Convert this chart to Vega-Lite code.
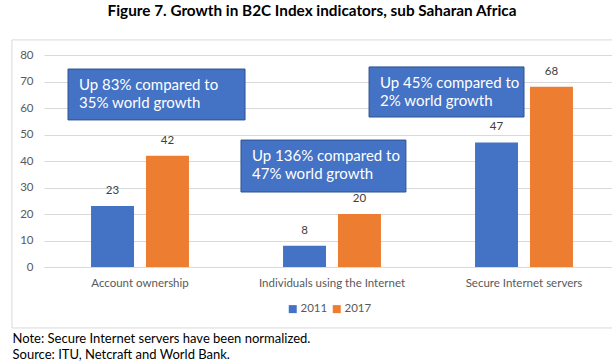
{
  "$schema": "https://vega.github.io/schema/vega-lite/v6.json",
  "width": 568,
  "height": 212,
  "autosize": {"type": "none"},
  "padding": {"left": 44, "top": 55, "right": 0, "bottom": 97},
  "background": "white",
  "config": {
    "font": "Lato",
    "view": {"stroke": null},
    "axis": {"labelFont": "Lato", "titleFont": "Lato"},
    "axisY": {
      "tickCount": 12,
      "labelOverlap": false,
      "ticks": false,
      "domain": false,
      "labelFontSize": 11.5,
      "labelColor": "#595959",
      "labelPadding": 11,
      "gridColor": "#d9d9d9",
      "gridWidth": 1
    },
    "legend": {"labelFont": "Lato"}
  },
  "title": {
    "text": "Figure 7. Growth in B2C Index indicators, sub Saharan Africa",
    "fontSize": 15.3,
    "fontWeight": "bold",
    "color": "#000000",
    "anchor": "middle",
    "frame": "group",
    "baseline": "alphabetic",
    "offset": 8,
    "dx": -16
  },
  "datasets": {
    "bars": [
      {"cat": "Account ownership", "year": "2011", "v": 23},
      {"cat": "Account ownership", "year": "2017", "v": 42},
      {"cat": "Individuals using the Internet", "year": "2011", "v": 8},
      {"cat": "Individuals using the Internet", "year": "2017", "v": 20},
      {"cat": "Secure Internet servers", "year": "2011", "v": 47},
      {"cat": "Secure Internet servers", "year": "2017", "v": 68}
    ],
    "boxes": [
      {"x1": 0.125, "x2": 1.047, "y1": 55.5, "y2": 74.7, "label": "Up 83% compared to\n35% world growth"},
      {"x1": 1.026, "x2": 1.885, "y1": 28.3, "y2": 47.9, "label": "Up 136% compared to\n47% world growth"},
      {"x1": 1.693, "x2": 2.5, "y1": 56.6, "y2": 75.5, "label": "Up 45% compared to\n2% world growth"}
    ],
    "frame": [
      {"x1": -0.167, "x2": 3.2, "y1": -23, "y2": 85.7}
    ]
  },
  "resolve": {"scale": {"x": "independent"}, "axis": {"x": "independent"}},
  "layer": [
    {
      "data": {"name": "frame"},
      "mark": {"type": "rect", "fill": "transparent", "stroke": "#d9d9d9", "strokeWidth": 1},
      "encoding": {
        "x": {"field": "x1", "type": "quantitative", "scale": {"domain": [0, 3], "range": [0, 576], "nice": false, "zero": false}, "axis": null},
        "x2": {"field": "x2"},
        "y": {"field": "y1", "type": "quantitative", "scale": {"domain": [0, 80], "nice": false}, "axis": {"title": null, "values": [0, 10, 20, 30, 40, 50, 60, 70, 80], "tickCount": 12, "labelOverlap": false}},
        "y2": {"field": "y2"}
      }
    },
    {
      "data": {"name": "bars"},
      "layer": [
        {
          "mark": {"type": "bar"},
          "encoding": {
            "x": {
              "field": "cat", "type": "nominal",
              "sort": ["Account ownership", "Individuals using the Internet", "Secure Internet servers"],
              "scale": {"range": [0, 576], "paddingInner": 0.49, "paddingOuter": 0.245},
              "axis": {
                "title": ["Note: Secure Internet servers have been normalized.", "Source: ITU, Netcraft and World Bank."],
                "titleFontSize": 13,
                "titleFontWeight": "normal",
                "titleColor": "#000000",
                "titleAlign": "left",
                "titleAnchor": "start",
                "titleBaseline": "alphabetic",
                "titleX": -32,
                "titleY": 75,
                "titleLineHeight": 16,
                "labelAngle": 0,
                "labelFontSize": 11.5,
                "labelColor": "#595959",
                "labelPadding": 10,
                "ticks": false,
                "domainColor": "#d9d9d9",
                "domainWidth": 1
              }
            },
            "xOffset": {"field": "year", "type": "nominal", "scale": {"paddingInner": 0.218, "paddingOuter": 0}},
            "y": {
              "field": "v", "type": "quantitative",
              "scale": {"domain": [0, 80], "nice": false},
              "axis": {"title": null, "values": [0, 10, 20, 30, 40, 50, 60, 70, 80], "tickCount": 12, "labelOverlap": false}
            },
            "color": {
              "field": "year", "type": "nominal",
              "scale": {"domain": ["2011", "2017"], "range": ["#4472C4", "#ED7D31"]},
              "legend": {
                "title": null,
                "orient": "none",
                "direction": "horizontal",
                "legendX": 243,
                "legendY": 248,
                "symbolType": "square",
                "symbolSize": 64,
                "symbolStrokeWidth": 0,
                "labelFontSize": 11.5,
                "labelColor": "#595959",
                "labelOffset": 2,
                "columnPadding": 3
              }
            }
          }
        },
        {
          "mark": {"type": "text", "dy": -10, "baseline": "bottom", "fontSize": 11.5, "color": "#404040"},
          "encoding": {
            "x": {"field": "cat", "type": "nominal", "sort": ["Account ownership", "Individuals using the Internet", "Secure Internet servers"]},
            "xOffset": {"field": "year", "type": "nominal"},
            "y": {"field": "v", "type": "quantitative", "axis": {"title": null, "values": [0, 10, 20, 30, 40, 50, 60, 70, 80], "tickCount": 12, "labelOverlap": false}},
            "text": {"field": "v", "type": "quantitative"}
          }
        }
      ]
    },
    {
      "data": {"name": "boxes"},
      "layer": [
        {
          "mark": {"type": "rect", "fill": "#4472C4", "stroke": "#2F528F", "strokeWidth": 1},
          "encoding": {
            "x": {"field": "x1", "type": "quantitative", "scale": {"domain": [0, 3], "range": [0, 576], "nice": false, "zero": false}, "axis": null},
            "x2": {"field": "x2"},
            "y": {"field": "y1", "type": "quantitative", "axis": {"title": null, "values": [0, 10, 20, 30, 40, 50, 60, 70, 80], "tickCount": 12, "labelOverlap": false}},
            "y2": {"field": "y2"}
          }
        },
        {
          "mark": {"type": "text", "align": "left", "baseline": "top", "dx": 11, "dy": 9, "fontSize": 15, "color": "white", "lineBreak": "\n", "lineHeight": 18},
          "encoding": {
            "x": {"field": "x1", "type": "quantitative"},
            "y": {"field": "y2", "type": "quantitative", "axis": {"title": null, "values": [0, 10, 20, 30, 40, 50, 60, 70, 80], "tickCount": 12, "labelOverlap": false}},
            "text": {"field": "label", "type": "nominal"}
          }
        }
      ]
    }
  ]
}
